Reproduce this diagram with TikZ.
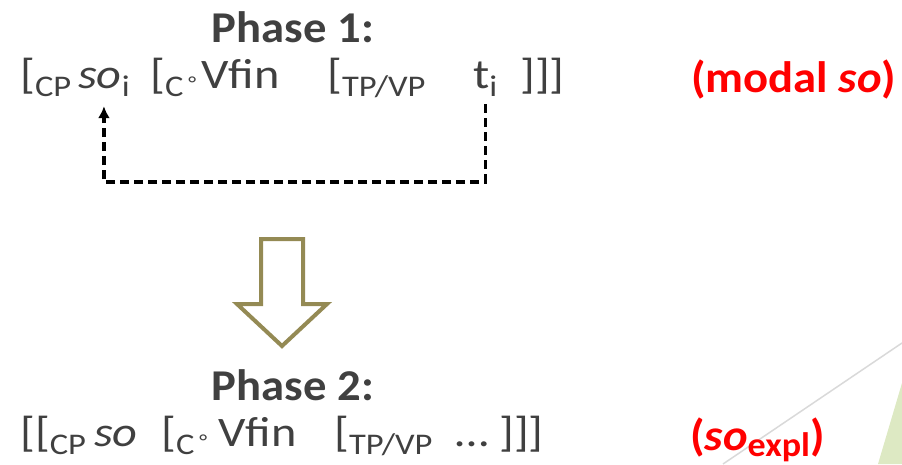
\documentclass[tikz,border=0pt]{standalone}
\usepackage{fontspec}
\setmainfont{Carlito}[FakeStretch=1.06]
\newfontfamily\glossfont{Carlito}[FakeStretch=1.15]
\usetikzlibrary{arrows.meta}

\definecolor{ink}{HTML}{404040}
\definecolor{alert}{HTML}{FF0000}
\definecolor{olive}{HTML}{948A54}
\definecolor{rulegray}{HTML}{D9D9D9}
\definecolor{leaf}{HTML}{DDE9C3}

% lowered label on a bracket or an index
\newcommand{\lowsub}[1]{\raisebox{-8pt}{\fontsize{30}{30}\selectfont #1}}
% small ring for C-zero
\newcommand{\czero}{C\,{\fontsize{20}{20}\selectfont\raisebox{6pt}{°}}}

\begin{document}
\begin{tikzpicture}[x=1pt, y=-1pt,
    word/.style={inner sep=0pt, anchor=base west, text=ink,
        font=\glossfont\fontsize{42}{44}\selectfont},
    title/.style={inner sep=0pt, anchor=base, text=ink,
        font=\bfseries\fontsize{44}{46}\selectfont},
    note/.style={inner sep=0pt, anchor=base west, text=alert,
        font=\bfseries\fontsize{44}{46}\selectfont},
    trace/.style={line width=3.5pt, dash pattern=on 9pt off 5pt,
        -{Latex[length=12pt, width=12pt]}}]
    \useasboundingbox (0,0) rectangle (902,464);
    %
    % corner decoration
    \fill[leaf] (902,383) -- (878,464) -- (902,464) -- cycle;
    \draw[rulegray, line width=1.5pt] (902,343) -- (723,464);
    %
    % phase 1
    \node[title] (ph1) at (293,42) {Phase 1:};
    \node[word] (cp1) at (20,88) {[\lowsub{CP}};
    \node[word] (so1) at (78,88) {\textit{so}\lowsub{i}};
    \node[word] (c1) at (150,88) {[\lowsub{\czero}};
    \node[word] (v1) at (201,88) {Vfin};
    \node[word] (tp1) at (327,88) {[\lowsub{TP/VP}};
    \node[word] (t1) at (473,88) {t\lowsub{i}};
    \node[word] (end1) at (520,88) {]]]};
    \node[note] (lbl1) at (691,92) {(modal \textit{so})};
    %
    % movement of so out of the TP/VP
    \coordinate (turn) at (0,182);
    \draw[trace] ([yshift=-8pt]t1.south) -- (t1.south |- turn) -| ([yshift=-10pt]so1.south);
    %
    % reanalysis
    \draw[olive, line width=4pt] (261,239) -- (303,239) -- (303,304) -- (327,304)
        -- (282,346) -- (237,304) -- (261,304) -- cycle;
    %
    % phase 2
    \node[title] (ph2) at (293,400) {Phase 2:};
    \node[word] (cp2) at (20,446) {[[\lowsub{CP}};
    \node[word] (so2) at (94,446) {\textit{so}};
    \node[word] (c2) at (161,446) {[\lowsub{\czero}};
    \node[word] (v2) at (218,446) {Vfin};
    \node[word] (tp2) at (334,446) {[\lowsub{TP/VP}};
    \node[word] (dots2) at (455,446) {…};
    \node[word] (end2) at (499,446) {]]]};
    \node[note] (lbl2) at (690,450) {(\textit{so}\raisebox{-6pt}{\fontsize{34}{34}\selectfont expl})};
\end{tikzpicture}
\end{document}
